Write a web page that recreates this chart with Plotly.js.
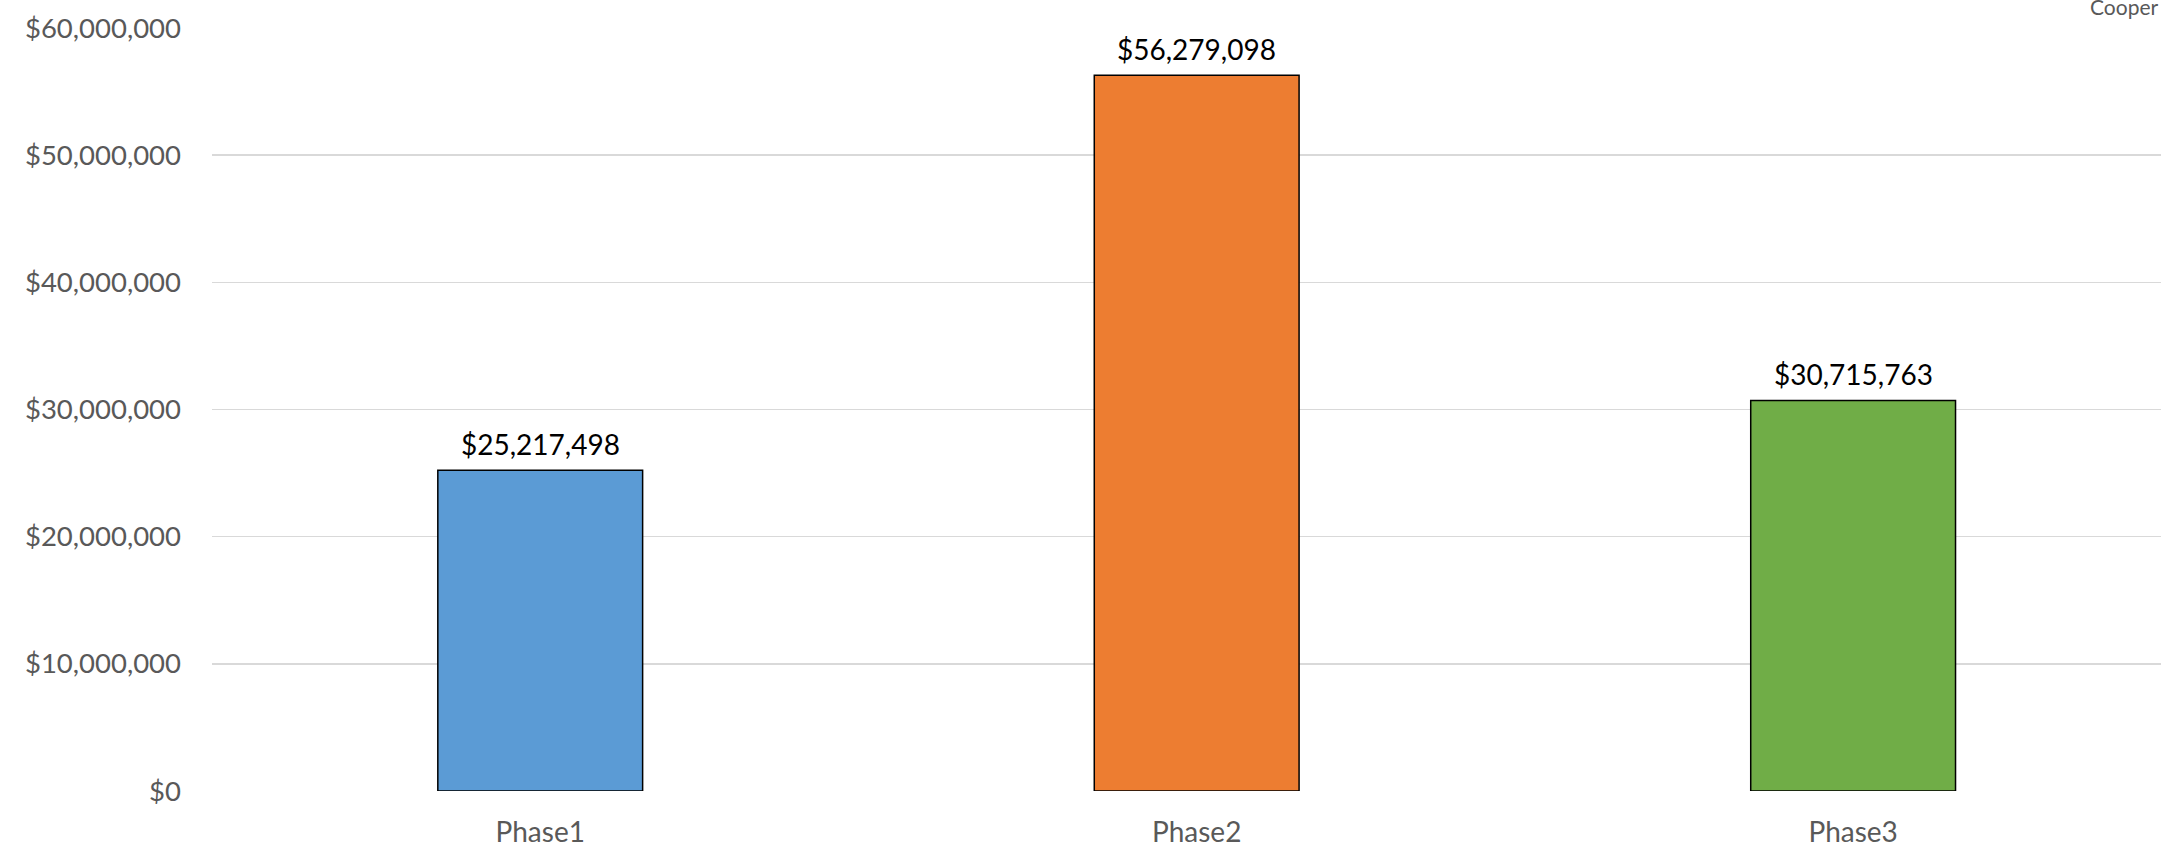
<!DOCTYPE html>
<html><head><meta charset="utf-8">
<script src="https://cdn.plot.ly/plotly-3.0.1.min.js"></script>
<style>html,body{margin:0;padding:0;overflow:hidden;background:#fff}</style>
</head><body>
<div id="chart" style="width:2161px;height:848px"></div>
<script>
const categories = ["Phase1", "Phase2", "Phase3"];
const values = [25217498, 56279098, 30715763];
const labels = ["$25,217,498", "$56,279,098", "$30,715,763"];
const barColors = ["#5B9BD5", "#ED7D31", "#70AD47"];
const yTickVals = [0, 10000000, 20000000, 30000000, 40000000, 50000000, 60000000];
const yTickText = ["$0", "$10,000,000", "$20,000,000", "$30,000,000", "$40,000,000", "$50,000,000", "$60,000,000"];
const cornerText = "Cooper";

const font = "Lato, 'Open Sans', sans-serif";

const trace = {
  type: "bar",
  x: categories,
  y: values,
  width: categories.map(() => 0.312),
  marker: {color: barColors, line: {color: "#000", width: 1.5}},
  hoverinfo: "skip"
};

const annotations = categories.map((c, i) => ({
  x: c, y: values[i], xref: "x", yref: "y",
  text: labels[i], showarrow: false,
  yanchor: "bottom", yshift: 7,
  font: {family: font, size: 28, color: "#000"}
}));
annotations.push({
  xref: "paper", yref: "paper", x: 0.9626, y: 1.0288,
  xanchor: "left", yanchor: "middle",
  text: cornerText, showarrow: false,
  font: {family: font, size: 21, color: "#595959"}
});

const layout = {
  width: 2161, height: 848,
  margin: {l: 212, r: 0, t: 28, b: 57},
  paper_bgcolor: "#fff", plot_bgcolor: "#fff",
  showlegend: false,
  xaxis: {
    type: "category",
    range: [-0.5, 2.469],
    showgrid: false, zeroline: false, showline: false,
    ticks: "", ticklabelstandoff: 22,
    tickfont: {family: font, size: 28, color: "#595959"}
  },
  yaxis: {
    range: [0, 60000000],
    tickvals: yTickVals, ticktext: yTickText,
    showgrid: true, gridcolor: "#D9D9D9", gridwidth: 1.5,
    zeroline: false, showline: false,
    ticks: "", ticklabelstandoff: 30,
    tickfont: {family: font, size: 27.5, color: "#595959"}
  },
  annotations: annotations
};

Plotly.newPlot("chart", [trace], layout, {displayModeBar: false, staticPlot: true});
</script>
</body></html>
